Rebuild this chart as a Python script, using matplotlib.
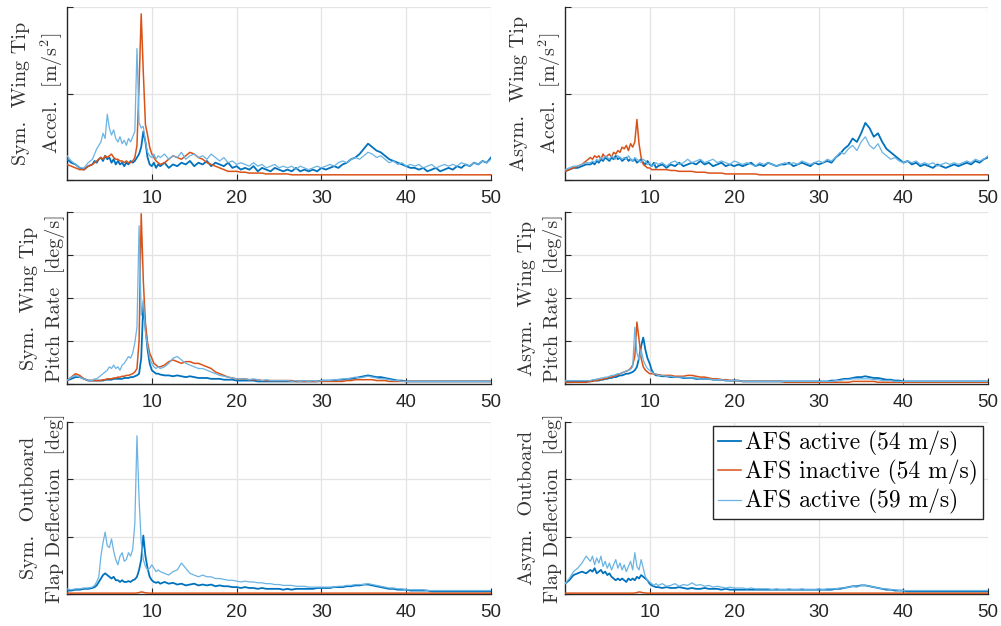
import numpy as np
import matplotlib
matplotlib.use("Agg")
import matplotlib.pyplot as plt

# Frequency grid [Hz]
freq = np.concatenate([np.arange(0, 3, 0.5), np.arange(3, 11, 0.25), np.arange(11, 50.01, 0.5)])

# ---- Values (relative amplitude, % of axis height) ----
# Panel 1: Sym. wing tip accel.
sym_acc_54a = [12, 10, 9, 7, 6, 8,
               9, 11, 10, 12, 13, 11, 14, 12, 13, 10, 12, 9, 11, 9, 10, 8,
               10, 9, 11, 10, 11, 13, 15, 19, 28, 22, 13, 9, 8, 10, 7, 9,
               8, 10, 7, 9, 8, 10, 9, 11, 8, 10,
               9, 11, 8, 10, 9, 8, 10, 7, 8, 6,
               7, 6, 8, 5, 7, 6, 5, 7, 6, 5,
               6, 5, 7, 5, 6, 5, 6, 5, 7, 6,
               7, 8, 7, 9, 10, 12, 13, 15, 18, 21,
               19, 17, 16, 14, 12, 11, 10, 9, 8, 7,
               7, 6, 7, 5, 6, 7, 5, 6, 7, 6,
               8, 7, 9, 8, 10, 9, 11, 10, 13]
sym_acc_54i = [9, 8, 7, 6, 6, 8,
               9, 10, 11, 12, 13, 12, 14, 13, 14, 15, 13, 12, 12, 11, 11, 10,
               11, 10, 10, 11, 13, 20, 55, 96, 62, 32, 26, 19, 15, 13, 11, 10,
               9, 10, 12, 14, 13, 12, 14, 16, 15, 13,
               12, 10, 9, 8, 7, 6, 5, 5, 5, 4.5,
               4.5, 4, 4, 4, 4, 3.5, 3.5, 3.5, 3.5, 3.5,
               3.5, 3, 3, 3, 3, 3, 3, 3, 3, 3,
               3, 3, 3, 3, 3, 3, 3, 3, 3, 3,
               3, 3, 3, 3, 3, 3, 3, 3, 3, 3,
               3, 3, 3, 3, 3, 3, 3, 3, 3, 3,
               3, 3, 3, 3, 3, 3, 3, 3, 3]
sym_acc_59a = [14, 11, 9, 7, 7, 10,
               12, 15, 18, 20, 22, 27, 24, 38, 30, 26, 29, 24, 22, 25, 21, 23,
               20, 24, 22, 25, 28, 76, 33, 30, 31, 22, 16, 14, 13, 15, 12, 14,
               13, 15, 12, 14, 13, 16, 12, 14, 15, 13,
               14, 12, 15, 13, 11, 13, 10, 11, 9, 10,
               9, 8, 10, 8, 9, 7, 8, 9, 7, 8,
               7, 8, 6, 8, 7, 6, 7, 8, 7, 8,
               9, 8, 10, 11, 10, 12, 13, 12, 14, 16,
               15, 13, 14, 12, 10, 11, 9, 10, 8, 9,
               8, 9, 7, 8, 9, 7, 8, 9, 8, 9,
               8, 10, 9, 8, 10, 9, 11, 10, 12]

# Panel 2: Asym. wing tip accel.
asym_acc_54a = [5, 6, 7, 7, 8, 9,
                9, 10, 9, 11, 10, 12, 11, 13, 12, 11, 13, 12, 14, 12, 13, 11,
                12, 13, 11, 12, 11, 12, 10, 11, 12, 10, 9, 11, 9, 8, 10, 7,
                8, 9, 7, 9, 8, 10, 8, 9, 10, 9,
                11, 9, 10, 8, 9, 10, 8, 9, 8, 9,
                8, 9, 10, 8, 9, 8, 10, 9, 8, 9,
                9, 10, 8, 9, 10, 9, 8, 10, 9, 10,
                11, 10, 13, 15, 18, 20, 24, 22, 27, 33,
                30, 25, 27, 22, 18, 16, 14, 12, 10, 11,
                9, 10, 8, 9, 8, 7, 9, 8, 7, 8,
                9, 8, 9, 10, 9, 11, 10, 12, 13]
asym_acc_54i = [5, 6, 7, 8, 9, 11,
                13, 12, 14, 13, 14, 12, 15, 13, 14, 15, 13, 16, 15, 17, 16, 19,
                18, 20, 17, 21, 19, 22, 35, 21, 13, 9, 8, 7, 7, 6, 6, 6,
                6, 6, 6, 5.5, 5.5, 5, 5, 5, 5, 4.5,
                4.5, 4.5, 4, 4, 4, 4, 3.5, 3.5, 3.5, 3.5,
                3.5, 3.5, 3.5, 3.5, 3, 3, 3, 3, 3, 3,
                3, 3, 3, 3, 3, 3, 3, 3, 3, 3,
                3, 3, 3, 3, 3, 3, 3, 3, 3, 3,
                3, 3, 3, 3, 3, 3, 3, 3, 3, 3,
                3, 3, 3, 3, 3, 3, 3, 3, 3, 3,
                3, 3, 3, 3, 3, 3, 3, 3, 3]
asym_acc_59a = [6, 7, 8, 8, 9, 10,
                10, 11, 10, 12, 11, 13, 12, 14, 13, 12, 14, 13, 12, 14, 13, 12,
                13, 12, 14, 12, 11, 13, 12, 11, 10, 12, 11, 9, 10, 8, 9, 10,
                9, 10, 8, 10, 11, 9, 10, 12, 10, 11,
                12, 10, 11, 12, 10, 11, 10, 9, 11, 10,
                9, 10, 9, 8, 10, 9, 10, 9, 8, 9,
                10, 9, 10, 9, 11, 10, 9, 10, 11, 10,
                12, 11, 13, 16, 15, 18, 20, 17, 22, 25,
                20, 18, 21, 16, 14, 12, 13, 11, 10, 11,
                10, 11, 9, 10, 9, 10, 8, 9, 10, 9,
                10, 9, 10, 11, 10, 12, 11, 12, 14]

# Panel 3: Sym. wing tip pitch rate
sym_pitch_54a = [2, 3, 4, 4, 3, 2,
                 2, 2, 2, 2, 2, 2, 2.5, 2.5, 2.5, 2.5, 3, 3, 3, 3, 3, 3.5,
                 3.5, 3.5, 4, 4, 4.5, 5, 6, 15, 47, 33, 20, 12, 8, 7, 6, 6,
                 5.5, 5, 5, 4.5, 5, 4.5, 4, 4.5, 4, 3.5,
                 3.5, 3.5, 3, 3, 3, 2.5, 2.5, 2.5, 2, 2,
                 2, 2, 2, 1.5, 1.5, 1.5, 1.5, 1.5, 1.5, 1.5,
                 1.5, 1.5, 1.5, 1.5, 1.5, 1.5, 1.5, 1.5, 2, 2,
                 2, 2, 2.5, 2.5, 3, 3, 3.5, 4, 4.5, 5,
                 4.5, 4, 4, 3.5, 3, 2.5, 2, 2, 1.5, 1.5,
                 1.5, 1.5, 1.5, 1.5, 1.5, 1.5, 1.5, 1.5, 1.5, 1.5,
                 1.5, 1.5, 1.5, 1.5, 1.5, 1.5, 1.5, 1.5, 1.5]
sym_pitch_54i = [2, 4, 6, 5, 3, 2,
                 2, 2, 2, 2, 2, 2.5, 2.5, 3, 3, 3, 3.5, 3.5, 4, 4, 4.5, 4.5,
                 5, 5, 5.5, 6, 7, 9, 25, 99, 60, 35, 24, 18, 15, 12, 11, 10,
                 10, 11, 13, 14, 13, 12, 13, 13, 12, 12,
                 11, 10, 9, 7, 6, 5, 4, 3.5, 3, 3,
                 3, 2.5, 2.5, 2.5, 2, 2, 2, 2, 2, 2,
                 2, 2, 1.5, 1.5, 1.5, 1.5, 1.5, 1.5, 1.5, 1.5,
                 1.5, 1.5, 1.5, 1.5, 2, 2, 2.5, 2.5, 2.5, 2.5,
                 2.5, 2, 2, 2, 1.5, 1.5, 1.5, 1.5, 1.5, 1.5,
                 1.5, 1.5, 1.5, 1.5, 1.5, 1.5, 1.5, 1.5, 1.5, 1.5,
                 1.5, 1.5, 1.5, 1.5, 1.5, 1.5, 1.5, 1.5, 1.5]
sym_pitch_59a = [2, 4, 5, 4, 3, 2,
                 2, 3, 3, 4, 5, 6, 7, 8, 10, 9, 11, 9, 10, 8, 11, 12,
                 14, 16, 15, 18, 24, 33, 92, 40, 49, 30, 22, 15, 12, 10, 9, 10,
                 9, 10, 12, 15, 16, 14, 12, 11, 10, 9,
                 9, 8, 7, 6, 5, 4.5, 4, 3.5, 3, 3,
                 3, 2.5, 3, 2.5, 2, 2.5, 2, 2, 2, 2,
                 2, 1.5, 2, 1.5, 2, 1.5, 2, 1.5, 2, 2,
                 2, 2.5, 2.5, 3, 3, 3.5, 4, 3.5, 4, 4.5,
                 4, 3.5, 3, 3, 2.5, 2, 2, 1.5, 1.5, 1.5,
                 1.5, 1.5, 1.5, 1.5, 1.5, 1.5, 1.5, 1.5, 1.5, 1.5,
                 1.5, 1.5, 1.5, 1.5, 1.5, 1.5, 1.5, 1.5, 1.5]

# Panel 4: Asym. wing tip pitch rate
asym_pitch_54a = [1.5, 1.5, 1.5, 1.5, 1.5, 1.5,
                  1.5, 2, 2, 2, 2, 2.5, 2.5, 3, 3, 3.5, 3.5, 4, 4, 4.5, 5, 5,
                  5.5, 6, 6, 6.5, 7, 8, 10, 15, 22, 27, 20, 15, 12, 8, 6, 5,
                  5, 4.5, 4.5, 4, 4, 4, 3.5, 3.5, 3.5, 3,
                  3, 3, 3, 2.5, 2.5, 2.5, 2, 2, 2, 2,
                  1.5, 1.5, 1.5, 1.5, 1.5, 1.5, 1.5, 1.5, 1.5, 1.5,
                  1.5, 1.5, 1.5, 1.5, 1.5, 1.5, 1.5, 1.5, 1.5, 1.5,
                  1.5, 2, 2, 2.5, 3, 3, 3.5, 4, 4, 4.5,
                  4, 3.5, 3.5, 3, 2.5, 2.5, 2, 2, 1.5, 1.5,
                  1.5, 1.5, 1.5, 1.5, 1.5, 1.5, 1.5, 1.5, 1.5, 1.5,
                  1.5, 1.5, 1.5, 1.5, 1.5, 1.5, 1.5, 1.5, 1.5]
asym_pitch_54i = [1, 1, 1, 1, 1, 1,
                  1.5, 1.5, 2, 2, 2.5, 2.5, 3, 3, 3.5, 4, 4, 4.5, 5, 5.5, 6, 6.5,
                  7, 7.5, 8, 9, 11, 16, 36, 26, 15, 10, 8, 7, 6, 6, 6, 5.5,
                  5.5, 5, 5, 5, 4.5, 4.5, 4.5, 5, 5, 4.5,
                  4, 4, 3.5, 3, 3, 2.5, 2.5, 2, 2, 2,
                  1.5, 1.5, 1.5, 1.5, 1.5, 1.5, 1.5, 1.5, 1.5, 1.5,
                  1, 1, 1, 1, 1, 1, 1, 1, 1, 1,
                  1, 1, 1, 1, 1, 1, 1.5, 1.5, 1.5, 1.5,
                  1.5, 1.5, 1, 1, 1, 1, 1, 1, 1, 1,
                  1, 1, 1, 1, 1, 1, 1, 1, 1, 1,
                  1, 1, 1, 1, 1, 1, 1, 1, 1]
asym_pitch_59a = [2, 2, 2, 2, 2, 2,
                  2, 2.5, 2.5, 3, 3, 3.5, 3.5, 4, 4, 4.5, 5, 5, 5.5, 6, 6, 6.5,
                  7, 7.5, 8, 8.5, 10, 33, 18, 14, 20, 14, 11, 9, 8, 7, 6, 6,
                  5, 5, 4.5, 4.5, 4, 4, 4, 3.5, 3.5, 3.5,
                  3, 3, 3, 2.5, 2.5, 2.5, 2, 2, 2, 2,
                  1.5, 1.5, 1.5, 1.5, 1.5, 1.5, 1.5, 1.5, 1.5, 1.5,
                  1.5, 1.5, 1.5, 1.5, 1.5, 1.5, 1.5, 1.5, 1.5, 1.5,
                  1.5, 1.5, 2, 2, 2.5, 2.5, 3, 3, 3, 3,
                  3, 2.5, 2.5, 2, 2, 2, 1.5, 1.5, 1.5, 1.5,
                  1.5, 1.5, 1.5, 1.5, 1.5, 1.5, 1.5, 1.5, 1.5, 1.5,
                  1.5, 1.5, 1.5, 1.5, 1.5, 1.5, 1.5, 1.5, 1.5]

# Panel 5: Sym. outboard flap deflection
sym_flap_54a = [2, 2, 2.5, 2.5, 3, 3,
                3.5, 4, 5, 7, 9, 11, 12, 11, 10, 9, 10, 8, 8, 7, 8, 7,
                7, 7.5, 7, 8, 8.5, 10, 14, 20, 34, 22, 15, 10, 8, 7, 6.5, 7,
                6, 7, 6, 6.5, 5.5, 6, 5, 5.5, 6, 5,
                5.5, 5, 5.5, 4.5, 5, 4.5, 4.5, 4, 4, 3.5,
                4, 3.5, 3.5, 3, 3.5, 3, 3, 3, 3, 2.5,
                3, 2.5, 3, 3, 3, 3, 3, 3.5, 3.5, 3.5,
                3.5, 4, 4, 4, 4.5, 4.5, 5, 5, 5.5, 5.5,
                5, 4.5, 4, 3.5, 3, 3, 2.5, 2.5, 2.5, 2,
                2, 2, 2, 2, 1.5, 1.5, 1.5, 1.5, 1.5, 1.5,
                1.5, 1.5, 1.5, 1.5, 1.5, 1.5, 1.5, 1.5, 1.5]
sym_flap_54i = [0.5, 0.5, 0.5, 0.5, 0.5, 0.5,
                0.5, 0.5, 0.5, 0.5, 0.5, 0.5, 0.5, 0.5, 0.5, 0.5, 0.5, 0.5, 0.5, 0.5, 0.5, 0.5,
                0.5, 0.5, 0.5, 0.5, 0.5, 0.6, 0.8, 1.2, 1.0, 0.7, 0.6, 0.5, 0.5, 0.5, 0.5, 0.5,
                0.5, 0.5, 0.5, 0.5, 0.5, 0.5, 0.5, 0.5, 0.5, 0.5,
                0.5, 0.5, 0.5, 0.5, 0.5, 0.5, 0.5, 0.5, 0.5, 0.5,
                0.5, 0.5, 0.5, 0.5, 0.5, 0.5, 0.5, 0.5, 0.5, 0.5,
                0.5, 0.5, 0.5, 0.5, 0.5, 0.5, 0.5, 0.5, 0.5, 0.5,
                0.5, 0.5, 0.5, 0.5, 0.5, 0.5, 0.5, 0.5, 0.5, 0.5,
                0.5, 0.5, 0.5, 0.5, 0.5, 0.5, 0.5, 0.5, 0.5, 0.5,
                0.5, 0.5, 0.5, 0.5, 0.5, 0.5, 0.5, 0.5, 0.5, 0.5,
                0.5, 0.5, 0.5, 0.5, 0.5, 0.5, 0.5, 0.5, 0.5]
sym_flap_59a = [3, 2.5, 3, 3, 3.5, 3.5,
                4, 5, 7, 10, 22, 30, 36, 28, 27, 32, 25, 20, 17, 22, 24, 19,
                20, 24, 22, 26, 41, 92, 55, 30, 20, 16, 14, 15, 17, 15, 13, 14,
                13, 12, 11, 13, 14, 18, 15, 12, 11, 10,
                11, 10, 10, 9, 9, 8.5, 8, 8, 7.5, 7,
                7.5, 7, 7, 6.5, 6.5, 6, 6, 5.5, 5.5, 5,
                5, 5, 4.5, 4.5, 4.5, 4, 4, 4, 4, 4,
                4, 4, 4.5, 4.5, 5, 5, 5.5, 5.5, 5.5, 6,
                5.5, 5, 4.5, 4, 3.5, 3.5, 3, 3, 2.5, 2.5,
                2.5, 2.5, 2.5, 2, 2, 2, 2, 2, 2, 2,
                2, 2, 2, 2, 2, 2, 2, 2, 2]

# Panel 6: Asym. outboard flap deflection
asym_flap_54a = [6, 8, 11, 12, 13, 12,
                 14, 13, 15, 12, 13, 14, 12, 13, 11, 12, 10, 9, 8, 9, 8, 9,
                 8, 7, 9, 8, 9, 8, 10, 9, 11, 10, 9, 8, 6, 5, 4.5, 4,
                 4, 3.5, 4, 3.5, 3.5, 4, 3.5, 3, 3.5, 3,
                 3, 3.5, 3, 3, 3, 2.5, 3, 2.5, 2.5, 2.5,
                 2.5, 2.5, 2.5, 2.5, 2.5, 2.5, 2.5, 2.5, 2.5, 2.5,
                 2.5, 2.5, 2.5, 2.5, 2.5, 2.5, 2.5, 2.5, 2.5, 2.5,
                 2.5, 2.5, 3, 3, 3.5, 4, 4.5, 4.5, 5, 5,
                 4.5, 4, 3.5, 3, 2.5, 2.5, 2, 2, 2, 1.5,
                 1.5, 1.5, 1.5, 1.5, 1.5, 1.5, 1.5, 1.5, 1.5, 1.5,
                 1.5, 1.5, 1.5, 1.5, 1.5, 1.5, 1.5, 1.5, 1.5]
asym_flap_54i = sym_flap_54i
asym_flap_59a = [6, 9, 13, 15, 18, 22,
                 19, 22, 17, 21, 18, 22, 16, 19, 15, 18, 14, 17, 20, 15, 18, 14,
                 17, 13, 16, 19, 14, 24, 16, 14, 20, 15, 10, 8, 7, 6, 5, 6,
                 5, 6, 4.5, 5, 6, 4.5, 5.5, 5, 6.5, 5,
                 5.5, 4.5, 5, 4, 4.5, 4, 3.5, 4, 3.5, 3.5,
                 3.5, 3, 3.5, 3, 3, 3, 3, 2.5, 3, 2.5,
                 2.5, 3, 2.5, 2.5, 3, 2.5, 2.5, 2.5, 3, 2.5,
                 3, 3, 3, 3.5, 3.5, 4, 4.5, 4, 5, 5,
                 4.5, 4, 3.5, 3, 3, 2.5, 2.5, 2, 2, 2,
                 2, 2, 2, 2, 2, 2, 2, 2, 2, 2,
                 2, 2, 2, 2, 2, 2, 2, 2, 2]

ylabels = ["Sym.  Wing Tip\nAccel.  [m/s$^2$]", "Asym.  Wing Tip\nAccel.  [m/s$^2$]",
           "Sym.  Wing Tip\nPitch Rate  [deg/s]", "Asym.  Wing Tip\nPitch Rate  [deg/s]",
           "Sym.  Outboard\nFlap Deflection  [deg]", "Asym.  Outboard\nFlap Deflection  [deg]"]
xtick_vals = [10, 20, 30, 40, 50]
legend_labels = ["AFS active (54 m/s)", "AFS inactive (54 m/s)", "AFS active (59 m/s)"]

panels = [
    (sym_acc_54a, sym_acc_54i, sym_acc_59a, [0, 50, 100]),
    (asym_acc_54a, asym_acc_54i, asym_acc_59a, [0, 50, 100]),
    (sym_pitch_54a, sym_pitch_54i, sym_pitch_59a, [0, 25, 50, 75, 100]),
    (asym_pitch_54a, asym_pitch_54i, asym_pitch_59a, [0, 25, 50, 75, 100]),
    (sym_flap_54a, sym_flap_54i, sym_flap_59a, [0, 100 / 3, 200 / 3, 100]),
    (asym_flap_54a, asym_flap_54i, asym_flap_59a, [0, 100 / 3, 200 / 3, 100]),
]

plt.rcParams['mathtext.fontset'] = 'cm'
plt.rcParams['axes.unicode_minus'] = False

c_dark = '#0072BD'
c_orange = '#D95319'
c_light = '#6AB3E3'
axc = '#262626'

fig = plt.figure(figsize=(10.01, 6.26), dpi=100)
W, H = 1001, 626
cols = [(67, 491), (565, 988)]
rows = [(7, 180), (212, 384), (422, 594)]

for i, (s1, s2, s3, yt) in enumerate(panels):
    r, c = divmod(i, 2)
    x0, x1 = cols[c]
    y0, y1 = rows[r]
    ax = fig.add_axes([x0 / W, 1 - y1 / H, (x1 - x0) / W, (y1 - y0) / H])
    l1, = ax.plot(freq, s1, color=c_dark, lw=1.3, zorder=3)
    l2, = ax.plot(freq, s2, color=c_orange, lw=1.1, zorder=3)
    l3, = ax.plot(freq, s3, color=c_light, lw=0.9, zorder=3)
    ax.set_xlim(0, 50)
    ax.set_ylim(0, 100)
    ax.set_xticks(xtick_vals)
    ax.set_yticks(yt)
    ax.set_yticklabels([])
    ax.grid(True, color='#e3e3e3', lw=0.9)
    ax.set_axisbelow(True)
    for sp in ['top', 'right']:
        ax.spines[sp].set_visible(False)
    for sp in ['left', 'bottom']:
        ax.spines[sp].set_color(axc)
        ax.spines[sp].set_linewidth(1.0)
    ax.tick_params(direction='in', length=4, width=0.8, colors=axc, labelsize=13.5, pad=7)
    for lab in ax.get_xticklabels():
        lab.set_fontfamily('Liberation Sans')
    ax.set_ylabel(ylabels[i], family='cmr10', fontsize=14.5, linespacing=1.45,
                  color='#333333')
    ax.yaxis.set_label_coords(-0.005, 0.5)
    if i == 5:
        leg = ax.legend([l1, l2, l3], legend_labels, loc='upper right',
                        bbox_to_anchor=(0.987, 0.977), borderaxespad=0,
                        prop={'family': 'cmr10', 'size': 17}, fancybox=False,
                        framealpha=1, edgecolor=axc, handlelength=1.0,
                        handletextpad=0.15, borderpad=0.2, labelspacing=0.18)
        leg.get_frame().set_linewidth(1.0)

fig.savefig('out.png', dpi=100)
